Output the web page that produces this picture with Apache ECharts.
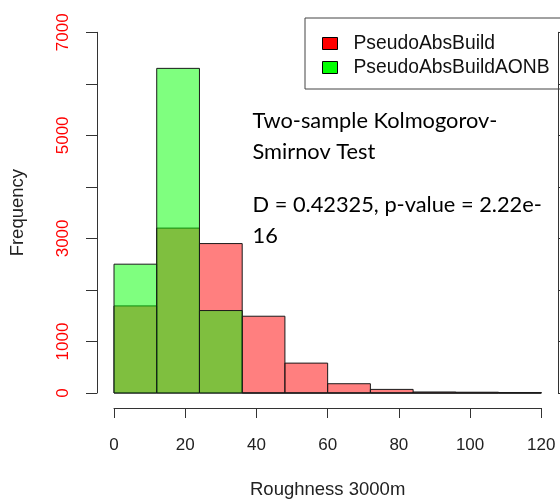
<!DOCTYPE html>
<html>
<head>
<meta charset="utf-8">
<script src="https://cdn.jsdelivr.net/npm/echarts@6/dist/echarts.min.js"></script>
<style>html,body{margin:0;padding:0;background:#fff}#c{width:560px;height:504px}</style>
</head>
<body>
<div id="c"></div>
<script>
// ---- data ----
const binEdges = [0, 12, 24, 36, 48, 60, 72, 84, 96, 108, 120];
const seriesNames = ['PseudoAbsBuild', 'PseudoAbsBuildAONB'];
const pseudoAbsBuild = [1690, 3200, 2900, 1490, 580, 180, 70, 20, 15, 10];
const pseudoAbsBuildAONB = [2500, 6300, 1600, 0, 0, 0, 0, 0, 0, 0];
const xTickValues = [0, 20, 40, 60, 80, 100, 120];
const yTickLabels = ['0', '1000', '', '3000', '', '5000', '', '7000'];
const xTitle = 'Roughness 3000m';
const yTitle = 'Frequency';
const noteLines1 = ['Two-sample Kolmogorov-', 'Smirnov Test'];
const noteLines2 = ['D = 0.42325, p-value = 2.22e-', '16'];

function toRows(vals) {
  return vals.map((v, i) => [binEdges[i], binEdges[i + 1], v]);
}
function makeRender(fill) {
  return function (params, api) {
    const x0 = api.value(0), x1 = api.value(1), y = api.value(2);
    const p0 = api.coord([x0, y]);
    const p1 = api.coord([x1, 0]);
    return {
      type: 'rect',
      shape: { x: p0[0], y: p0[1], width: p1[0] - p0[0], height: p1[1] - p0[1] },
      style: { fill: fill, stroke: '#1a1a1a', lineWidth: 1 }
    };
  };
}

const chart = echarts.init(document.getElementById('c'), null, { renderer: 'canvas' });
const axisFont = 'Liberation Sans, Arial, sans-serif';
chart.setOption({
  animation: false,
  backgroundColor: '#ffffff',
  grid: { left: 113, right: 18.7, top: 32.3, bottom: 107.3, containLabel: false },
  legend: {
    orient: 'vertical',
    left: 305, top: 18,
    padding: [16, 11, 12, 17],
    itemWidth: 15, itemHeight: 12, itemGap: 5,
    borderColor: '#444', borderWidth: 1,
    icon: 'rect',
    textStyle: { fontFamily: axisFont, fontSize: 19.3, color: '#111', lineHeight: 19, padding: [0, 0, 0, 11] },
    data: [
      { name: seriesNames[0], itemStyle: { color: '#ff0000', borderColor: '#000', borderWidth: 1, opacity: 1 } },
      { name: seriesNames[1], itemStyle: { color: '#00ff00', borderColor: '#000', borderWidth: 1, opacity: 1 } }
    ]
  },
  xAxis: {
    type: 'value', min: 0, max: 120, interval: 20,
    offset: 15,
    name: xTitle, nameLocation: 'middle', nameGap: 72,
    nameTextStyle: { fontFamily: axisFont, fontSize: 18.5, color: '#222' },
    axisLine: { show: true, onZero: false, lineStyle: { color: '#333', width: 1 } },
    axisTick: { show: true, length: 10, lineStyle: { color: '#333' } },
    axisLabel: { margin: 29, fontFamily: axisFont, fontSize: 17, color: '#222',
      formatter: v => xTickValues.indexOf(v) >= 0 ? String(v) : '' },
    splitLine: { show: false }
  },
  yAxis: [{
    type: 'value', min: 0, max: 7000, interval: 1000,
    offset: 17,
    name: yTitle, nameLocation: 'middle', nameGap: 70, nameRotate: 90,
    nameTextStyle: { fontFamily: axisFont, fontSize: 18.5, color: '#222' },
    axisLine: { show: true, onZero: false, lineStyle: { color: '#333', width: 1 } },
    axisTick: { show: true, length: 11, lineStyle: { color: '#333' } },
    axisLabel: { rotate: 90, margin: 25, fontFamily: axisFont, fontSize: 17, color: '#ff0000',
      formatter: v => yTickLabels[Math.round(v / 1000)] || '' },
    splitLine: { show: false }
  }, {
    type: 'value', min: 0, max: 7000, interval: 1000, position: 'right', offset: 16.7,
    axisLine: { show: true, onZero: false, lineStyle: { color: '#333', width: 1 } },
    axisTick: { show: true, inside: false, length: 2, lineStyle: { color: '#333' } },
    axisLabel: { show: false }, splitLine: { show: false }
  }],
  series: [
    {
      name: seriesNames[0], type: 'custom', renderItem: makeRender('rgba(255,0,0,0.5)'),
      itemStyle: { color: 'rgba(255,0,0,0.5)' },
      encode: { x: [0, 1], y: 2 }, data: toRows(pseudoAbsBuild), z: 2
    },
    {
      name: seriesNames[1], type: 'custom', renderItem: makeRender('rgba(0,255,0,0.5)'),
      itemStyle: { color: 'rgba(0,255,0,0.5)' },
      encode: { x: [0, 1], y: 2 }, data: toRows(pseudoAbsBuildAONB), z: 3
    }
  ],
  graphic: [
    { type: 'text', left: 252.5, top: 105,
      style: { text: noteLines1.join('\n'), font: '21.8px Lato', lineHeight: 31, fill: '#000' } },
    { type: 'text', left: 252.5, top: 189.5,
      style: { text: noteLines2.join('\n'), font: '21.8px Lato', lineHeight: 31, fill: '#000' } }
  ]
});
</script>
</body>
</html>
